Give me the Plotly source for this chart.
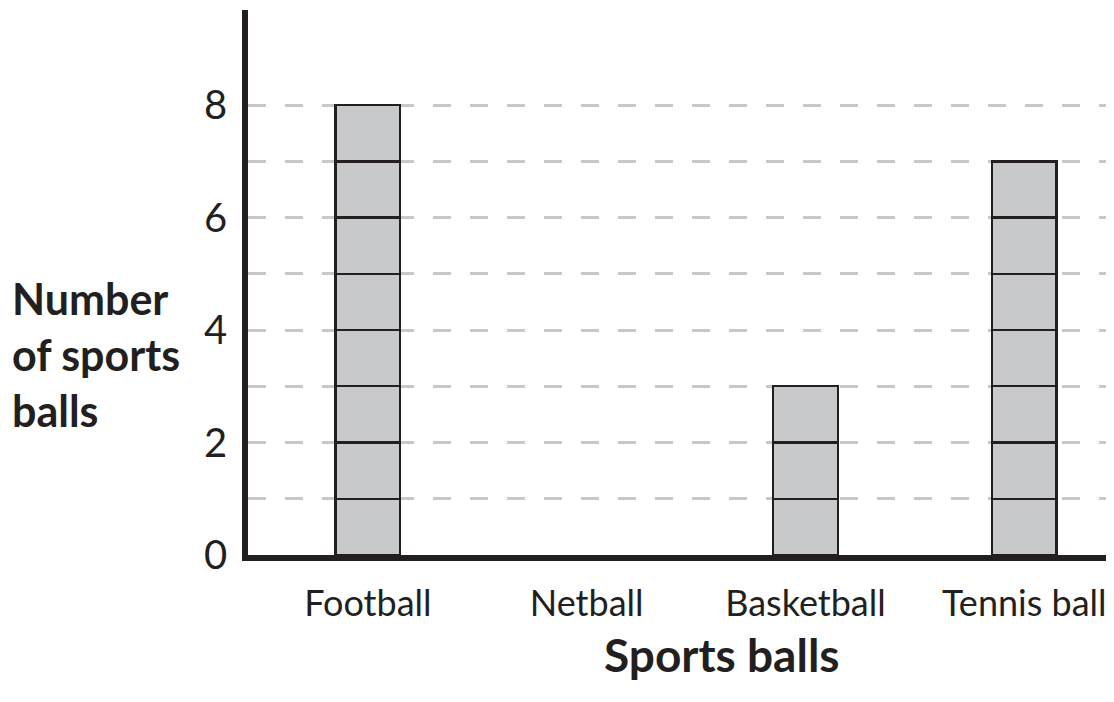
import plotly.graph_objects as go

categories = ["Football", "Netball", "Basketball", "Tennis ball"]
counts = [8, 0, 3, 7]
y_tick_values = [0, 1, 2, 3, 4, 5, 6, 7, 8]
y_tick_labels = ["0", "", "2", "", "4", "", "6", "", "8"]
x_title = "Sports balls"
y_title = "Number<br>of sports<br>balls"

FONT = "Lato"
INK = "#231f20"

# page body has an 8px margin, so the figure is laid out 8px smaller
W, H = 1106, 694
ML, MR, MT, MB = 240, 2, 2, 147
PW, PH = W - ML - MR, H - MT - MB

def px_to_paper(x, y):
    return (x - ML) / PW, ((H - MB) - y) / PH

fig = go.Figure()
# each bar is built from stacked unit blocks
for level in range(1, max(counts) + 1):
    seg = [1 if c >= level else None for c in counts]
    fig.add_trace(go.Bar(
        x=categories, y=seg, width=0.295,
        marker=dict(color="#c8c9ca", line=dict(color=INK, width=2.4)),
        showlegend=False, hoverinfo="skip",
    ))

xt = px_to_paper(714, 646)
yt = px_to_paper(2, 346)

fig.update_layout(
    barmode="stack",
    width=W, height=H,
    margin=dict(l=ML, r=MR, t=MT, b=MB, pad=0),
    paper_bgcolor="white", plot_bgcolor="white",
    font=dict(family=FONT, color=INK),
    xaxis=dict(
        range=[-0.548, 3.401], showgrid=False, zeroline=False,
        showline=True, linecolor=INK, linewidth=6,
        tickfont=dict(size=36, family=FONT, color=INK),
        ticks="", ticklabelstandoff=12,
    ),
    yaxis=dict(
        range=[0, 9.69], tickmode="array",
        tickvals=y_tick_values, ticktext=y_tick_labels,
        showgrid=True, gridcolor="#c8c8c8", gridwidth=3, griddash="18px,19px",
        zeroline=False, showline=True, linecolor=INK, linewidth=5.5,
        tickfont=dict(size=40, family=FONT, color=INK),
        ticks="", ticklabelstandoff=7,
    ),
    annotations=[
        dict(text="<b>" + x_title + "</b>", xref="paper", yref="paper",
             x=xt[0], y=xt[1], xanchor="center", yanchor="middle",
             showarrow=False, font=dict(size=46, family=FONT, color=INK)),
        dict(text="<b>" + y_title + "</b>", xref="paper", yref="paper",
             x=yt[0], y=yt[1], xanchor="left", yanchor="middle",
             showarrow=False, font=dict(size=43, family=FONT, color=INK), align="left"),
    ],
)

fig.write_html("out.html")
